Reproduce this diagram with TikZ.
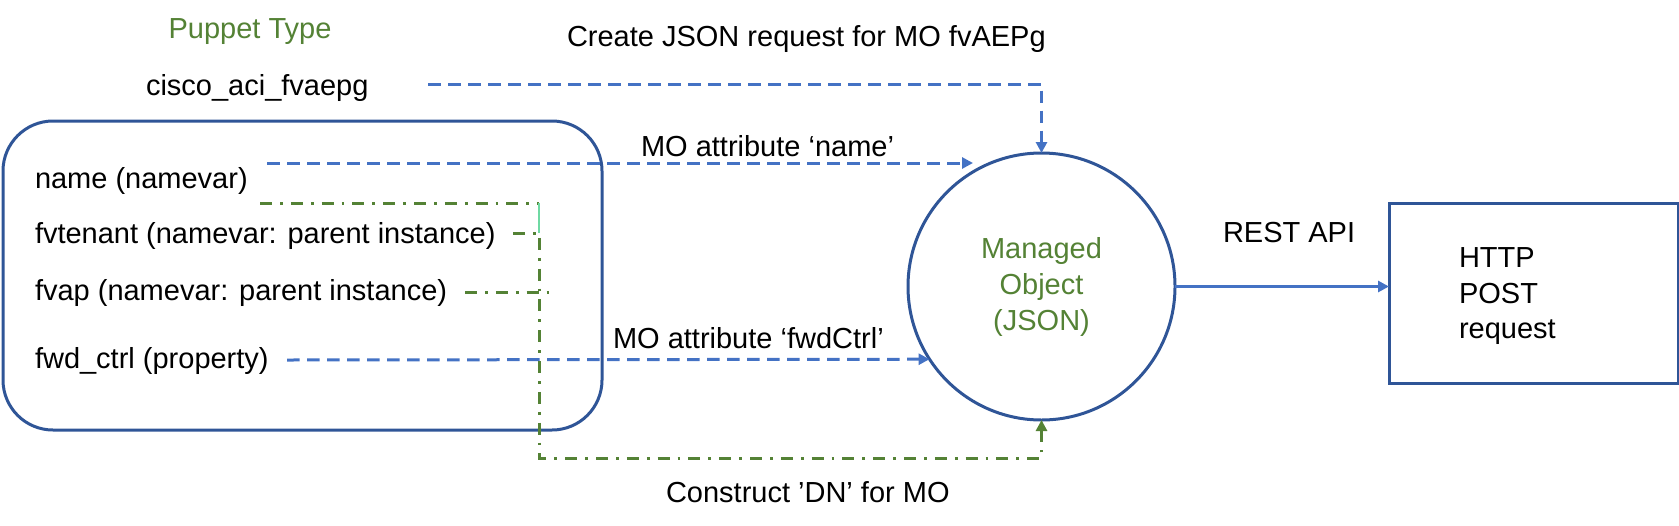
\documentclass[tikz,border=0pt]{standalone}
\usepackage{fontspec}
\setmainfont{Liberation Sans}
\usetikzlibrary{arrows.meta}
\definecolor{lblue}{HTML}{4472C4}
\definecolor{dblue}{HTML}{2F5597}
\definecolor{dgreen}{HTML}{548235}
\definecolor{mint}{HTML}{6FD9A3}
\begin{document}
\begin{tikzpicture}[x=0.5pt,y=-0.5pt,
  every node/.style={font=\fontsize{14.5}{17.5}\selectfont, inner sep=0pt, outer sep=0pt},
  lbl/.style={anchor=base west},
  tipb/.style={-{Triangle[length=5.5pt,width=5.5pt]}},
  bluedash/.style={draw=lblue, line width=1.5pt, dash pattern=on 6.3pt off 3.7pt},
  greendd/.style={draw=dgreen, line width=1.5pt, dash pattern=on 6pt off 4pt on 1.4pt off 4pt},
  border/.style={draw=dblue, line width=1.5pt}
]
\useasboundingbox (0,0) rectangle (1679,525);

% containers
\node[border, rounded corners=25pt, minimum width=299.5pt, minimum height=154.5pt] (params) at (302.5,275.5) {};
\node[border, circle, minimum size=133.5pt, align=center, text=dgreen,
      font=\fontsize{14.5}{18}\selectfont] (mo) at (1041.5,286.5) {Managed\\Object\\(JSON)};
\node[border, rectangle, minimum width=144.5pt, minimum height=90pt] (box) at (1533.5,293) {};

% texts
\node[anchor=base, text=dgreen] (ptype) at (250,38) {Puppet Type};
\node[lbl] (create) at (567,46) {Create JSON request for MO fvAEPg};
\node[lbl] (cisco) at (146,95) {cisco\_aci\_fvaepg};
\node[lbl] (pname) at (35,188) {name (namevar)};
\node[lbl] (ptenant) at (35,243) {fvtenant (namevar: parent instance)};
\node[lbl] (pap) at (35,300) {fvap (namevar: parent instance)};
\node[lbl] (pfwd) at (35,368) {fwd\_ctrl (property)};
\node[lbl] (lname) at (641,156) {MO attribute ‘name’};
\node[lbl] (lfwd) at (613,348) {MO attribute ‘fwdCtrl’};
\node[lbl] (ldn) at (666,502) {Construct ’DN’ for MO};
\node[lbl] (lrest) at (1223,242) {REST API};
\node[lbl] (h1) at (1459,267) {HTTP};
\node[lbl] (h2) at (1459,303) {POST};
\node[lbl] (h3) at (1459,338) {request};

% connector end points
\coordinate (cstart) at (428,84);
\coordinate (nstart) at (267,163);
\coordinate (nend) at (973,163);
\coordinate (fstart) at (287,360);
\coordinate (g1s) at (260,203);
\coordinate (g1e) at (539,203);
\coordinate (g2s) at (513,233);
\coordinate (g2c) at (539,233);
\coordinate (g2b) at (539,458);
\coordinate (g3s) at (465,292);
\coordinate (g3e) at (550,292);

% blue dashed connectors
\draw[bluedash, tipb] (cstart) -| (mo.north);
\draw[bluedash, tipb] (nstart) -- (nend);
\draw[bluedash, tipb] (fstart) -- (mo.213.4);

% green dash-dot connectors
\draw[greendd] (g1s) -- (g1e);
\draw[draw=mint, line width=0.8pt] (g1e) -- (g2c);
\draw[greendd, -{Triangle[length=5.5pt,width=5.5pt]}] (g2s) -- (g2c) -- (g2b) -| (mo.south);
\draw[greendd] (g3s) -- (g3e);

% REST arrow
\draw[draw=lblue, line width=1.4pt, tipb] (mo.east) -- (mo.east -| box.west);
\end{tikzpicture}
\end{document}
